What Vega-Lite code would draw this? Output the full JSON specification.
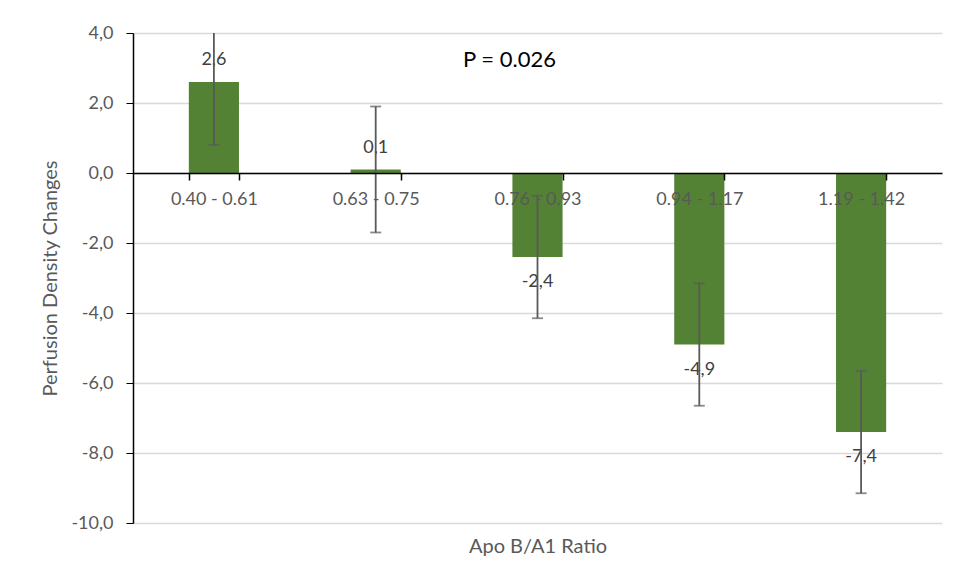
{
  "$schema": "https://vega.github.io/schema/vega-lite/v6.json",
  "width": 809,
  "height": 490,
  "autosize": {"type": "none"},
  "padding": {"left": 133, "top": 33, "right": 11, "bottom": 58},
  "background": "white",
  "config": {
    "font": "Lato",
    "view": {"stroke": null},
    "locale": {"number": {"decimal": ",", "thousands": ".", "grouping": [3], "currency": ["", ""], "minus": "-"}}
  },
  "datasets": {
    "bars": [
      {"range": "0.40 - 0.61", "value": 2.6, "lo": 0.8, "hi": 4.4},
      {"range": "0.63 - 0.75", "value": 0.1, "lo": -1.7, "hi": 1.9},
      {"range": "0.76 - 0.93", "value": -2.4, "lo": -4.15, "hi": -0.65},
      {"range": "0.94 - 1.17", "value": -4.9, "lo": -6.65, "hi": -3.15},
      {"range": "1.19 - 1.42", "value": -7.4, "lo": -9.15, "hi": -5.65}
    ],
    "note": [{"text": "P  = 0.026"}]
  },
  "data": {"name": "bars"},
  "encoding": {
    "x": {
      "field": "range",
      "type": "nominal",
      "sort": null,
      "scale": {"paddingInner": 0.69, "paddingOuter": 0.345},
      "axis": {
        "orient": "bottom",
        "offset": -350,
        "zindex": 1,
        "domainColor": "#000000",
        "domainWidth": 1.5,
        "tickBand": "extent",
        "tickColor": "#000000",
        "tickWidth": 1.5,
        "tickSize": 7,
        "labelAngle": 0,
        "labelColor": "#595959",
        "labelFontSize": 18,
        "labelPadding": 10,
        "title": "Apo B/A1 Ratio",
        "titleColor": "#595959",
        "titleFontSize": 20,
        "titleFontWeight": "normal",
        "titleBaseline": "middle",
        "titleY": 373
      }
    }
  },
  "layer": [
    {
      "mark": {"type": "bar", "color": "#548235"},
      "encoding": {
        "y": {
          "field": "value",
          "type": "quantitative",
          "scale": {"domain": [-10, 4], "nice": false},
          "axis": {
            "values": [-10, -8, -6, -4, -2, 0, 2, 4],
            "format": ".1f",
            "domainColor": "#000000",
            "domainWidth": 1.5,
            "tickColor": "#000000",
            "tickSize": 7,
            "labelColor": "#595959",
            "labelFontSize": 18,
            "labelPadding": 13,
            "gridColor": "#d9d9d9",
            "gridWidth": 1.5,
            "title": "Perfusion Density Changes",
            "titleColor": "#595959",
            "titleFontSize": 20,
            "titleFontWeight": "normal",
            "titleBaseline": "middle",
            "titleX": -83
          }
        }
      }
    },
    {
      "transform": [{"filter": "datum.value >= 0"}],
      "mark": {"type": "text", "dy": -22, "fontSize": 18, "color": "#404040"},
      "encoding": {
        "y": {"field": "value", "type": "quantitative"},
        "text": {"field": "value", "type": "quantitative", "format": ".1f"}
      }
    },
    {
      "transform": [{"filter": "datum.value < 0"}],
      "mark": {"type": "text", "dy": 25, "fontSize": 18, "color": "#404040"},
      "encoding": {
        "y": {"field": "value", "type": "quantitative"},
        "text": {"field": "value", "type": "quantitative", "format": ".1f"}
      }
    },
    {
      "mark": {"type": "rule", "color": "#595959", "strokeWidth": 1.8, "clip": true},
      "encoding": {
        "y": {"field": "lo", "type": "quantitative"},
        "y2": {"field": "hi"}
      }
    },
    {
      "mark": {"type": "tick", "color": "#595959", "thickness": 1.8, "size": 11, "clip": true},
      "encoding": {"y": {"field": "lo", "type": "quantitative"}}
    },
    {
      "mark": {"type": "tick", "color": "#595959", "thickness": 1.8, "size": 11, "clip": true},
      "encoding": {"y": {"field": "hi", "type": "quantitative"}}
    },
    {
      "data": {"name": "note"},
      "mark": {"type": "text", "fontSize": 22, "color": "#000000", "dx": -28, "baseline": "middle"},
      "encoding": {
        "x": {"datum": "0.76 - 0.93", "type": "nominal"},
        "y": {"datum": 3.23, "type": "quantitative"},
        "text": {"field": "text"}
      }
    }
  ]
}
